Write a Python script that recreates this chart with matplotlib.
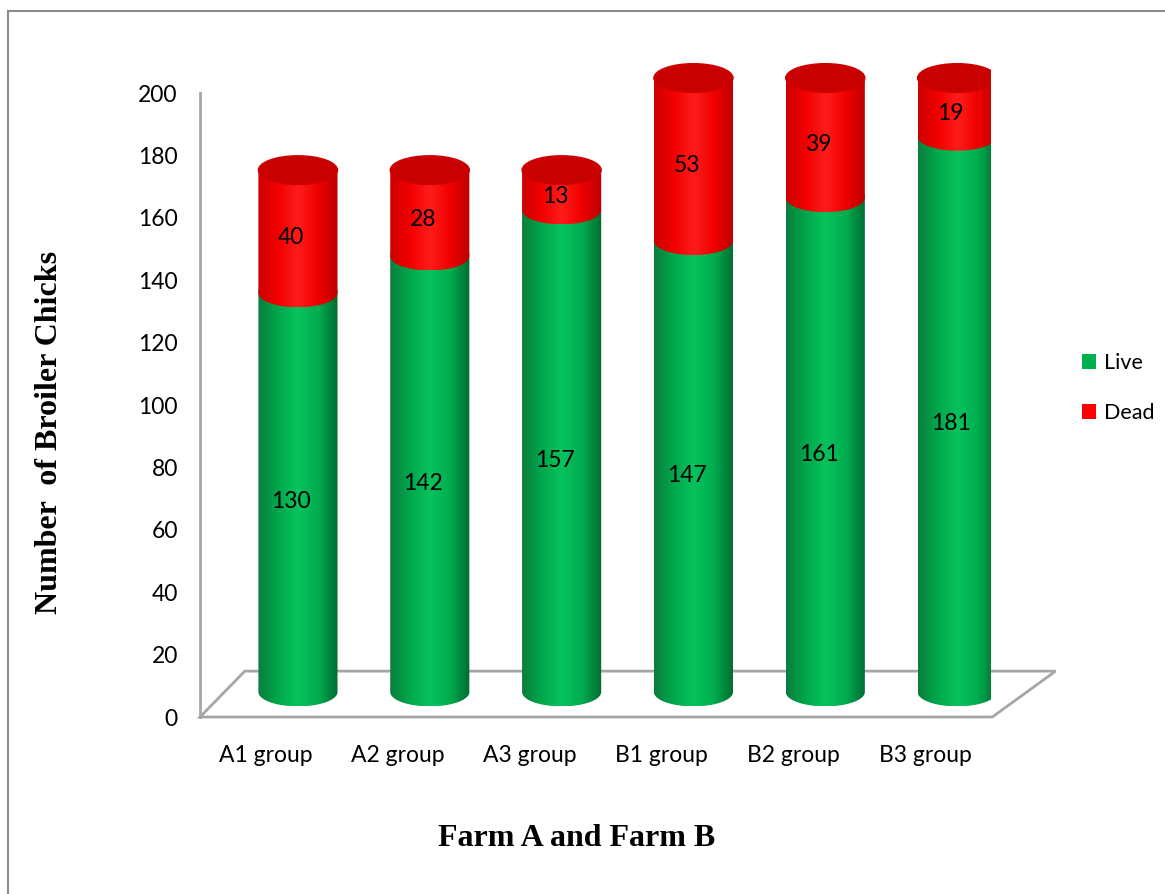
import matplotlib.pyplot as plt
import numpy as np
from matplotlib.colors import LinearSegmentedColormap
from matplotlib.patches import PathPatch, Ellipse, Polygon, Patch
from matplotlib.path import Path
from matplotlib.lines import Line2D

groups = ['A1 group', 'A2 group', 'A3 group', 'B1 group', 'B2 group', 'B3 group']
live = [130, 142, 157, 147, 161, 181]
dead = [40, 28, 13, 53, 39, 19]
yticks = [0, 20, 40, 60, 80, 100, 120, 140, 160, 180, 200]

W, H = 1165, 894
fig = plt.figure(figsize=(W / 100, H / 100), dpi=100)

# axes: x front plane 200..991 px, y 0 at 717 px, 3.12 px per unit
ppu = 3.12
ytop = 215
ax = fig.add_axes([200 / W, (H - 717) / H, 791 / W, ytop * ppu / H])
ax.set_xlim(-0.5, 5.5)
ax.set_ylim(0, ytop)
for s in ax.spines.values():
    s.set_visible(False)

font = 'Lato'
serif = 'Liberation Serif'
fs = 16.5

# floor and back wall line
floor = Polygon([(-0.5, 0), (5.51, 0), (5.99, 14.7), (-0.16, 14.7)], closed=True,
                fill=False, edgecolor='#a6a6a6', lw=2, zorder=1, clip_on=False)
ax.add_patch(floor)
ax.plot([-0.5, -0.5], [0, 200], color='#a6a6a6', lw=2, zorder=1, clip_on=False)

green_cm = LinearSegmentedColormap.from_list(
    'g', ['#0a7d3c', '#00a84c', '#07c25c', '#00ad4f', '#006b30'])
red_cm = LinearSegmentedColormap.from_list(
    'r', ['#cc0000', '#f20000', '#ff1c1c', '#f00000', '#bb0000'])

dx = 0.243   # perspective shift of cylinders
hw = 0.30    # half width
eh = 4.6     # ellipse half height


def depth(v):
    return 8 + 0.984 * v


def segment(cx, y0, y1, cmap):
    t = np.linspace(np.pi, 2 * np.pi, 60)
    xs = np.concatenate([[cx - hw, cx - hw], cx + hw * np.cos(t), [cx + hw, cx - hw]])
    ys = np.concatenate([[y1, y0], y0 + eh * np.sin(t), [y1, y1]])
    patch = PathPatch(Path(np.column_stack([xs, ys])), facecolor='none',
                      edgecolor='none', zorder=2)
    ax.add_patch(patch)
    grad = np.linspace(0, 1, 256).reshape(1, -1)
    im = ax.imshow(grad, cmap=cmap, aspect='auto', zorder=2,
                   extent=[cx - hw, cx + hw, y0 - eh, y1], interpolation='bilinear')
    im.set_clip_path(patch)


for i in range(len(groups)):
    cx = i + dx
    b = depth(0)
    m = depth(live[i])
    t = depth(live[i] + dead[i])
    segment(cx, b, m + 1, green_cm)
    segment(cx, m, t, red_cm)
    ax.add_patch(Ellipse((cx, t), 2 * hw, 2 * eh, facecolor='#c80000',
                         edgecolor='#d00000', lw=1, zorder=3))
    ax.text(cx - 0.05, depth(live[i] / 2) - 3, str(live[i]), ha='center', va='center',
            fontsize=fs, family=font, zorder=4)
    ax.text(cx - 0.05, depth(live[i] + dead[i] / 2) - 2, str(dead[i]), ha='center',
            va='center', fontsize=fs, family=font, zorder=4)

ax.set_xticks(range(len(groups)))
ax.set_xticklabels(groups, fontsize=fs, family=font)
ax.set_yticks(yticks)
ax.set_yticklabels([str(v) for v in yticks], fontsize=fs, family=font)
ax.tick_params(axis='x', length=0, pad=20)
ax.tick_params(axis='y', length=0, pad=16)

fig.text(50 / W, (H - 432) / H, 'Number  of Broiler Chicks', rotation=90,
         ha='center', va='center', fontsize=23, fontweight='bold', family=serif)
fig.text(577 / W, (H - 838) / H, 'Farm A and Farm B', ha='center', va='center',
         fontsize=23, fontweight='bold', family=serif)

handles = [Patch(facecolor='#00b050', edgecolor='none', label='Live'),
           Patch(facecolor='#ff0000', edgecolor='none', label='Dead')]
fig.legend(handles=handles, loc='center left', bbox_to_anchor=(1076 / W, (H - 388) / H),
           frameon=False, prop={'family': font, 'size': 15.5}, labelspacing=1.4,
           handlelength=0.65, handleheight=0.65, handletextpad=0.35, borderaxespad=0,
           borderpad=0.3)

# outer frame (left and top edges)
fig.add_artist(Line2D([8 / W, 8 / W], [0, (H - 11) / H], color='#8c8c8c', lw=1.5))
fig.add_artist(Line2D([8 / W, 1], [(H - 11) / H, (H - 11) / H], color='#8c8c8c', lw=1.5))

fig.savefig('out.png', dpi=100)
